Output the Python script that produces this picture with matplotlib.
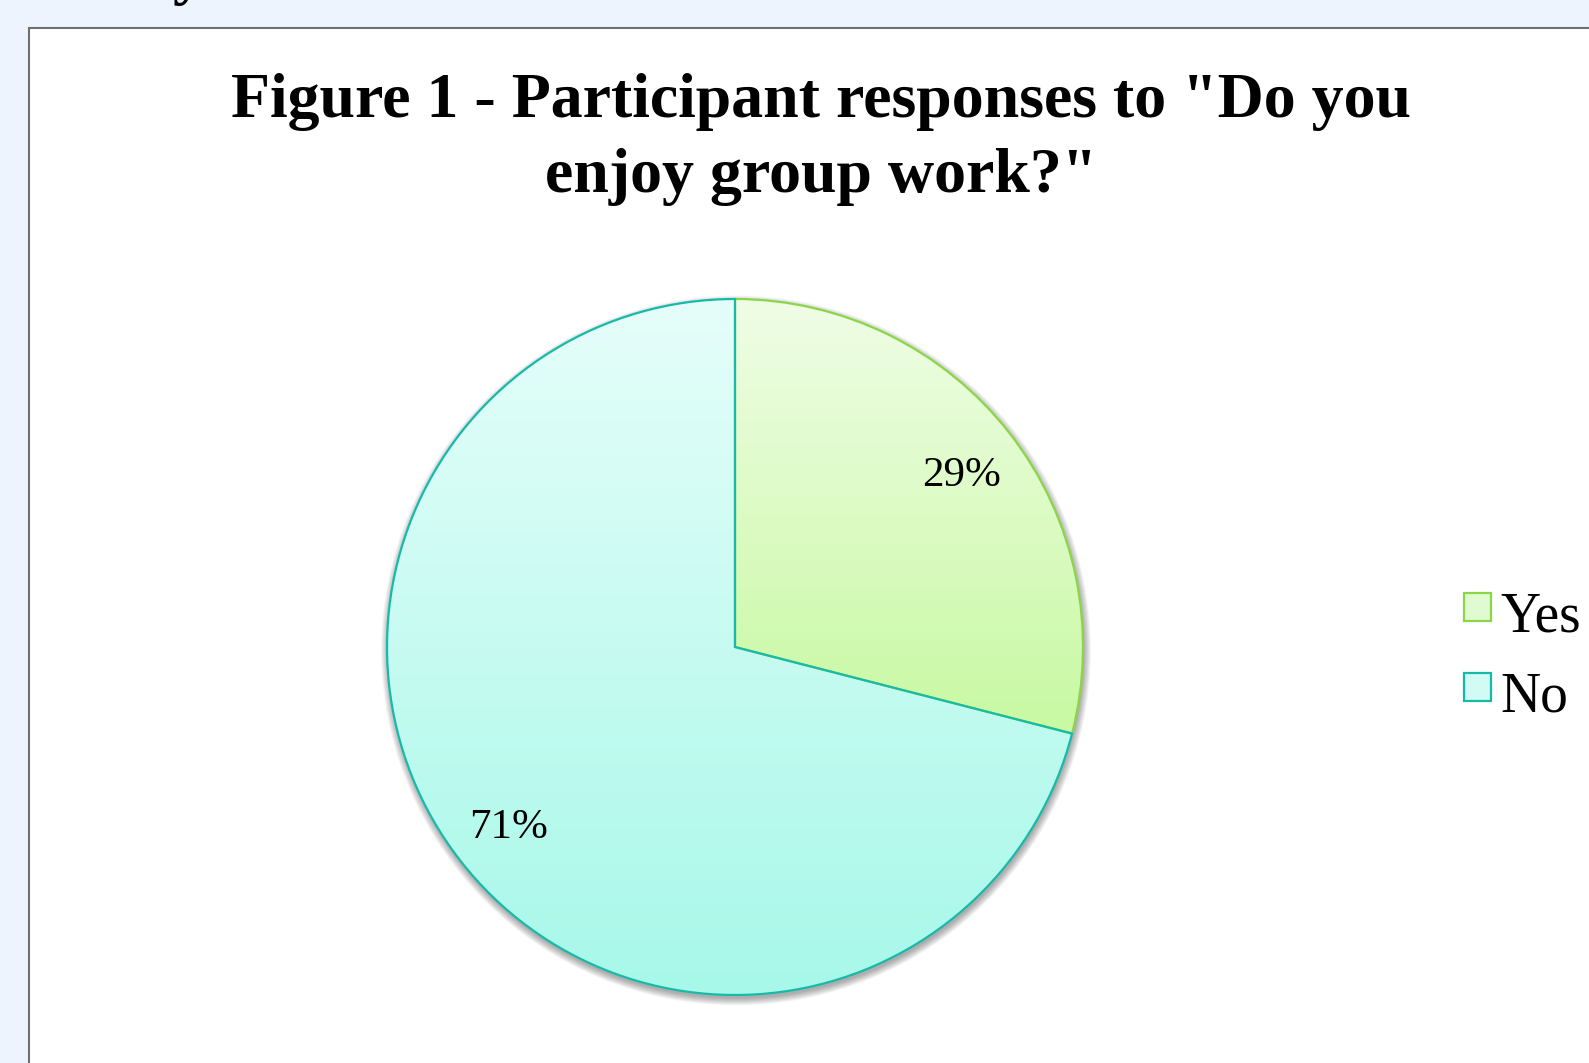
import numpy as np
import matplotlib
matplotlib.use("Agg")
import matplotlib.pyplot as plt
from matplotlib.patches import Rectangle, Circle
from matplotlib.colors import LinearSegmentedColormap

W, H, DPI = 1589, 1063, 100

# Survey data
labels = ["Yes", "No"]
shares = [29, 71]
title_lines = ['Figure 1 - Participant responses to "Do you', 'enjoy group work?"']

# Styling per category: (gradient top, gradient bottom, edge, legend fill)
grad_top = ["#EFFDE6", "#E6FEFA"]
grad_bot = ["#C8F9A2", "#A7F8E9"]
edge_col = ["#8AD647", "#17BAA9"]
legend_fill = ["#E0FBD2", "#D2FBF3"]

SERIF = "Liberation Serif"
TITLE_SIZE = 46

fig = plt.figure(figsize=(W / DPI, H / DPI), dpi=DPI)
fig.patch.set_facecolor("#EDF4FD")

# Page layer in pixel coordinates
bg = fig.add_axes([0, 0, 1, 1])
bg.set_xlim(0, W)
bg.set_ylim(H, 0)
bg.axis("off")
bg.add_patch(Rectangle((28.5, 27.5), W, H, facecolor="white",
                       edgecolor="#6F6F6F", lw=1.5))

# Tail of the preceding heading line, cut off by the page edge
bg.text(172, -8, "y", fontsize=TITLE_SIZE, fontweight="bold", family=SERIF,
        ha="left", va="baseline", color="black")

# Chart title
bg.text(821, 117, title_lines[0], fontsize=TITLE_SIZE, fontweight="bold",
        family=SERIF, ha="center", va="baseline")
bg.text(821, 192.5, title_lines[1], fontsize=TITLE_SIZE, fontweight="bold",
        family=SERIF, ha="center", va="baseline")

# Pie axes: centre (735, 647) px, radius 348 px
cx, cy, r = 735, 647, 348
pax = fig.add_axes([(cx - r) / W, (H - cy - r) / H, 2 * r / W, 2 * r / H])

# Soft drop shadow beneath the pie
for k in range(10):
    pax.add_patch(Circle((0.003, -0.010), 1.0 + 0.0022 * k, facecolor="black",
                         edgecolor="none", alpha=0.035, clip_on=False, zorder=0))

wedges, texts, autotexts = pax.pie(
    shares, startangle=90, counterclock=False, radius=1,
    autopct="%1.0f%%", pctdistance=0.825,
    textprops=dict(fontsize=31, family=SERIF, color="black"),
    wedgeprops=dict(linewidth=1.6))

for i, w in enumerate(wedges):
    w.set_facecolor("none")
    w.set_edgecolor(edge_col[i])
    w.set_clip_on(False)
    w.set_zorder(3 + i)
    # vertical gradient over the slice's own vertical extent
    ys = [p[1] for p in w.get_path().vertices]
    ytop, ybot = 1.0, max(-1.0, min(ys))
    cmap = LinearSegmentedColormap.from_list(f"g{i}", [grad_bot[i], grad_top[i]])
    grad = np.linspace(0, 1, 256).reshape(-1, 1)
    im = pax.imshow(grad, cmap=cmap, extent=(-1, 1, ybot, ytop), origin="lower",
                    aspect="auto", zorder=1, interpolation="bilinear")
    im.set_clip_path(w)

for t in autotexts:
    t.set_zorder(6)
    t.set_verticalalignment("center_baseline")

pax.set_xlim(-1, 1)
pax.set_ylim(-1, 1)
pax.axis("off")

# Legend
leg_y = [593, 673]
for i, lab in enumerate(labels):
    bg.add_patch(Rectangle((1463.5, leg_y[i]), 27, 28, facecolor=legend_fill[i],
                           edgecolor=edge_col[i], lw=1.6))
    bg.text(1500, leg_y[i] + 39, lab, fontsize=40, family=SERIF,
            ha="left", va="baseline", color="black")

fig.savefig("out.png", dpi=DPI, facecolor=fig.get_facecolor())
